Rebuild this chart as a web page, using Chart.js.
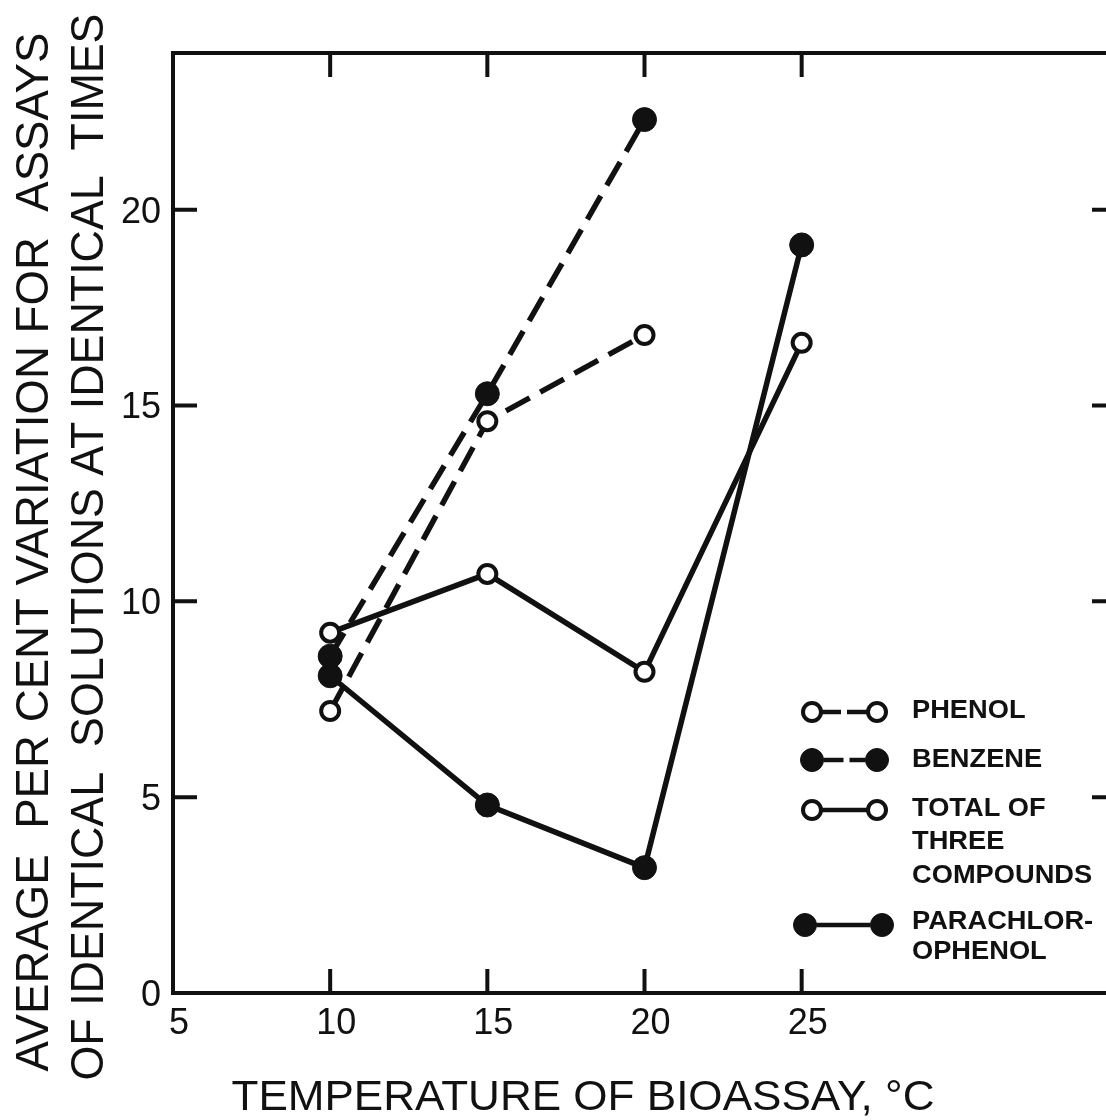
<!DOCTYPE html>
<html>
<head>
<meta charset="utf-8">
<title>Per cent variation vs bioassay temperature</title>
<script src="https://cdn.jsdelivr.net/npm/chart.js@4.4.1/dist/chart.umd.min.js"></script>
<style>
  html, body { margin: 0; padding: 0; background: #fff; overflow: hidden; }
  canvas { display: block; }
</style>
</head>
<body>
<canvas id="chart" width="1130" height="1120"></canvas>
<script>
// bioassay temperatures, deg C
const temps = [10, 15, 20, 25];

// average per cent variation at each temperature
const phenol = [7.2, 14.6, 16.8];
const benzene = [8.6, 15.3, 22.3];
const totalThree = [9.2, 10.7, 8.2, 16.6];
const parachlorophenol = [8.1, 4.8, 3.2, 19.1];

// axis marks
const xLabels = [5, 10, 15, 20, 25];
const xTickMarks = [10, 15, 20, 25];
const yLabels = [0, 5, 10, 15, 20];
const yTickMarks = [5, 10, 15, 20];

const xTitle = 'TEMPERATURE OF BIOASSAY, °C';
const yTitle = ['AVERAGE  PER CENT VARIATION FOR  ASSAYS', 'OF IDENTICAL  SOLUTIONS AT IDENTICAL  TIMES'];
const legendNames = [['PHENOL'], ['BENZENE'], ['TOTAL OF', 'THREE', 'COMPOUNDS'], ['PARACHLOR-', 'OPHENOL']];

const ink = '#111';
const face = '"Liberation Sans", Arial, sans-serif';

function series(label, values, filled, dashed) {
  return {
    label: label,
    data: values.map((y, i) => ({ x: temps[i], y: y })),
    showLine: true,
    borderColor: ink,
    borderWidth: 5.5,
    borderDash: dashed ? [27, 12] : [],
    pointRadius: filled ? 12 : 9,
    pointBorderWidth: filled ? 1 : 4,
    pointBackgroundColor: filled ? ink : '#fff',
    pointBorderColor: ink
  };
}

// frame round the plot plus inward tick marks on all four sides
const framePlugin = {
  id: 'frame',
  beforeDatasetsDraw(chart) {
    const { ctx, chartArea: a, scales } = chart;
    const len = 24;
    ctx.save();
    ctx.strokeStyle = ink;
    ctx.lineWidth = 4;
    ctx.lineCap = 'butt';
    ctx.strokeRect(a.left, a.top, a.right - a.left, a.bottom - a.top);
    ctx.beginPath();
    xTickMarks.forEach(v => {
      const px = scales.x.getPixelForValue(v);
      ctx.moveTo(px, a.bottom); ctx.lineTo(px, a.bottom - len);
      ctx.moveTo(px, a.top); ctx.lineTo(px, a.top + len);
    });
    yTickMarks.forEach(v => {
      const py = scales.y.getPixelForValue(v);
      ctx.moveTo(a.left, py); ctx.lineTo(a.left + len, py);
      ctx.moveTo(a.right, py); ctx.lineTo(a.right - len, py);
    });
    ctx.stroke();
    ctx.restore();
  }
};

// draw a line of text squeezed/stretched to a given length
function fitText(ctx, text, x, y, length, rotated) {
  ctx.save();
  ctx.translate(x, y);
  if (rotated) ctx.rotate(-Math.PI / 2);
  const w = ctx.measureText(text).width;
  ctx.scale(length / w, 1);
  ctx.textAlign = 'center';
  ctx.textBaseline = 'alphabetic';
  ctx.fillText(text, 0, 0);
  ctx.restore();
}

const titlePlugin = {
  id: 'titles',
  afterDraw(chart) {
    const { ctx, chartArea: a } = chart;
    ctx.save();
    ctx.fillStyle = ink;
    ctx.font = '42px ' + face;
    fitText(ctx, xTitle, a.left + 410, a.bottom + 117, 703, false);
    ctx.font = '46px ' + face;
    fitText(ctx, yTitle[0], a.left - 125, a.top + 499, 1039, true);
    fitText(ctx, yTitle[1], a.left - 70, a.top + 494, 1067, true);
    ctx.restore();
  }
};

// legend with two-marker line samples
const legendLayout = {
  rows: [
    { y: 712, marks: [812, 877], textY: [718] },
    { y: 760, marks: [812, 877], textY: [767] },
    { y: 810, marks: [812, 877], textY: [816, 849, 883] },
    { y: 925, marks: [805, 882], textY: [929, 959] }
  ],
  textX: 912,
  stretch: 1.09
};
const legendStyles = [
  { filled: false, dashed: true },
  { filled: true, dashed: true },
  { filled: false, dashed: false },
  { filled: true, dashed: false }
];

const legendPlugin = {
  id: 'sampleLegend',
  afterDraw(chart) {
    const ctx = chart.ctx;
    ctx.save();
    legendLayout.rows.forEach((row, i) => {
      const st = legendStyles[i];
      const r = st.filled ? 11.5 : 9;
      const x1 = row.marks[0], x2 = row.marks[1];
      ctx.strokeStyle = ink;
      ctx.lineWidth = 4.5;
      ctx.setLineDash(st.dashed ? [20, 6] : []);
      ctx.beginPath();
      ctx.moveTo(x1 + r, row.y);
      ctx.lineTo(x2 - r, row.y);
      ctx.stroke();
      ctx.setLineDash([]);
      row.marks.forEach(mx => {
        ctx.beginPath();
        ctx.arc(mx, row.y, r, 0, Math.PI * 2);
        ctx.fillStyle = st.filled ? ink : '#fff';
        ctx.fill();
        ctx.lineWidth = st.filled ? 1 : 4;
        ctx.stroke();
      });
      ctx.fillStyle = ink;
      ctx.font = 'bold 25px ' + face;
      ctx.textAlign = 'left';
      ctx.textBaseline = 'alphabetic';
      legendNames[i].forEach((t, k) => {
        ctx.save();
        ctx.translate(legendLayout.textX, row.textY[k]);
        ctx.scale(legendLayout.stretch, 1);
        ctx.fillText(t, 0, 0);
        ctx.restore();
      });
    });
    ctx.restore();
  }
};

new Chart(document.getElementById('chart'), {
  type: 'scatter',
  data: {
    datasets: [
      series('PHENOL', phenol, false, true),
      series('BENZENE', benzene, true, true),
      series('TOTAL OF THREE COMPOUNDS', totalThree, false, false),
      series('PARACHLOROPHENOL', parachlorophenol, true, false)
    ]
  },
  options: {
    responsive: false,
    animation: false,
    events: [],
    layout: { padding: { top: 53, right: 14, left: 0, bottom: 0 } },
    plugins: {
      legend: { display: false },
      tooltip: { enabled: false }
    },
    scales: {
      x: {
        type: 'linear',
        min: 5,
        max: 35,
        grid: { display: false, drawTicks: false },
        border: { display: false },
        afterBuildTicks: s => { s.ticks = xLabels.map(v => ({ value: v })); },
        afterFit: s => { s.height = 127; },
        ticks: {
          color: ink,
          font: { family: face, size: 36 },
          padding: 9,
          labelOffset: 6,
          maxRotation: 0,
          autoSkip: false
        }
      },
      y: {
        type: 'linear',
        min: 0,
        max: 24,
        grid: { display: false, drawTicks: false },
        border: { display: false },
        afterBuildTicks: s => { s.ticks = yLabels.map(v => ({ value: v })); },
        afterFit: s => { s.width = 173; },
        ticks: {
          color: ink,
          font: { family: face, size: 36 },
          padding: 12,
          labelOffset: 3
        }
      }
    }
  },
  plugins: [framePlugin, titlePlugin, legendPlugin]
});
</script>
</body>
</html>
